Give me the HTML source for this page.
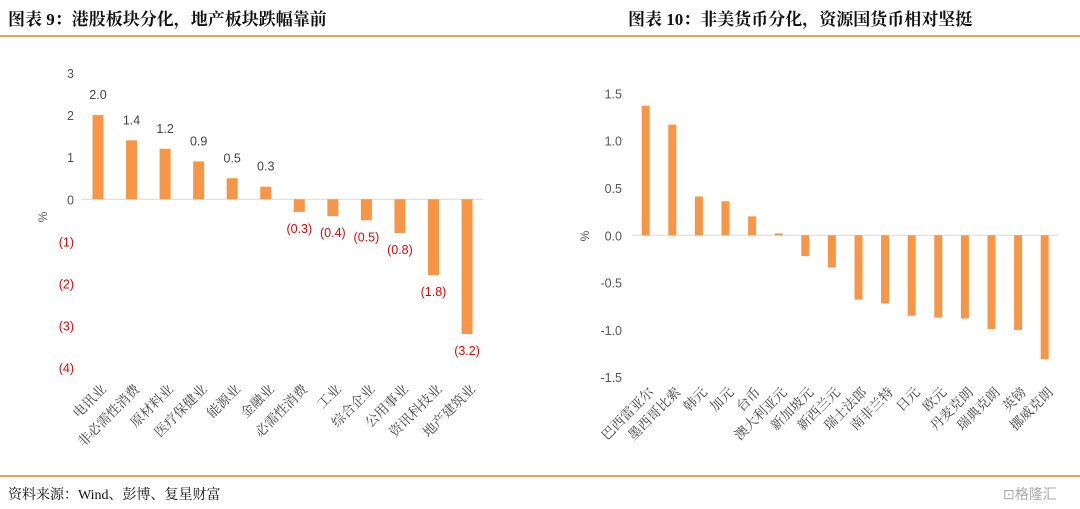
<!DOCTYPE html>
<html><head><meta charset="utf-8">
<style>
body{margin:0;background:#fff;width:1080px;height:509px;overflow:hidden;font-family:"Liberation Serif","Noto Serif CJK SC",serif;}
.t{position:absolute;top:5px;font-size:17px;font-weight:bold;color:#111;}
.ln{position:absolute;left:0;width:1080px;height:2px;background:#f0a050;}
svg{position:absolute;left:0;top:0}
</style></head><body>
<div class="t" style="left:8px">图表 9：港股板块分化，地产板块跌幅靠前</div>
<div class="t" style="left:628px">图表 10：非美货币分化，资源国货币相对坚挺</div>
<div class="ln" style="top:35px"></div>
<div class="ln" style="top:475px"></div>
<div style="position:absolute;left:8px;top:484px;font-size:14px;color:#111">资料来源：Wind、彭博、复星财富</div>
<div style="position:absolute;left:1003px;top:484px;font-size:14px;color:#aaa;font-family:'Noto Sans CJK SC',sans-serif">⊡格隆汇</div>
<svg id="c" width="1080" height="509"></svg>
<script>
const leftCats=["电讯业","非必需性消费","原材料业","医疗保健业","能源业","金融业","必需性消费","工业","综合企业","公用事业","资讯科技业","地产建筑业"];
const leftVals=[2.0,1.4,1.2,0.9,0.5,0.3,-0.3,-0.4,-0.5,-0.8,-1.8,-3.2];
const leftTicks=[3,2,1,0,-1,-2,-3,-4];
const rightCats=["巴西雷亚尔","墨西哥比索","韩元","加元","台币","澳大利亚元","新加坡元","新西兰元","瑞士法郎","南非兰特","日元","欧元","丹麦克朗","瑞典克朗","英镑","挪威克朗"];
const rightVals=[1.37,1.17,0.41,0.36,0.2,0.02,-0.22,-0.34,-0.68,-0.72,-0.85,-0.87,-0.88,-0.99,-1.0,-1.31];
const rightTicks=[1.5,1.0,0.5,0.0,-0.5,-1.0,-1.5];
const svg=document.getElementById('c');const NS='http://www.w3.org/2000/svg';
function mk(tag,attrs,txt){const e=document.createElementNS(NS,tag);for(const k in attrs)e.setAttribute(k,attrs[k]);if(txt!=null)e.textContent=txt;svg.appendChild(e);return e;}
const sans='"Liberation Sans","Noto Sans CJK SC",sans-serif';
function fmtL(v){return v<0?'('+Math.abs(v).toFixed(1)+')':v.toFixed(1);}
const ly=v=>199.3-v*42.1; const lx=i=>98+i*33.55;
let e=mk('line',{x1:81,x2:483,y1:ly(0),y2:ly(0),stroke:'#d9d9d9','stroke-width':1});

leftTicks.forEach(t=>{const tx=mk('text',{x:74,y:ly(t)+5,'text-anchor':'end','font-size':12.5,fill:t<0?'#e00':'#555','font-family':sans},t<0?'('+Math.abs(t)+')':t);
});
e=mk('text',{x:0,y:0,'font-size':12,fill:'#555','font-family':sans,transform:'translate(47,217) rotate(-90)','text-anchor':'middle'},'%');

leftVals.forEach((v,i)=>{const y0=ly(0),y1=ly(v);
const r=mk('rect',{x:lx(i)-5.5,y:Math.min(y0,y1),width:11,height:Math.abs(y1-y0),fill:'#f79646'});

const ty=v>=0?y1-16:y1+21;
const l=mk('text',{x:lx(i),y:ty,'text-anchor':'middle','font-size':12.5,fill:v<0?'#e00':'#444','font-family':sans},fmtL(v));

const c=mk('text',{x:0,y:0,'text-anchor':'end','font-size':13.5,fill:'#444',transform:`translate(${lx(i)+9},${390}) rotate(-45)`},leftCats[i]);
});
const ry=v=>235.3-v*94.6; const rx=i=>645.7+i*26.6;
e=mk('line',{x1:632,x2:1058,y1:ry(0),y2:ry(0),stroke:'#d9d9d9','stroke-width':1});

rightTicks.forEach(t=>{const tx=mk('text',{x:622,y:ry(t)+5,'text-anchor':'end','font-size':12.5,fill:'#555','font-family':sans},t.toFixed(1));
});
e=mk('text',{x:0,y:0,'font-size':12,fill:'#555','font-family':sans,transform:'translate(589,236) rotate(-90)','text-anchor':'middle'},'%');

rightVals.forEach((v,i)=>{const y0=ry(0),y1=ry(v);
const r=mk('rect',{x:rx(i)-4,y:Math.min(y0,y1),width:8,height:Math.max(1,Math.abs(y1-y0)),fill:'#f79646'});

const c=mk('text',{x:0,y:0,'text-anchor':'end','font-size':13.5,fill:'#444',transform:`translate(${rx(i)+9},${393}) rotate(-45)`},rightCats[i]);
});
</script>
</body></html>
